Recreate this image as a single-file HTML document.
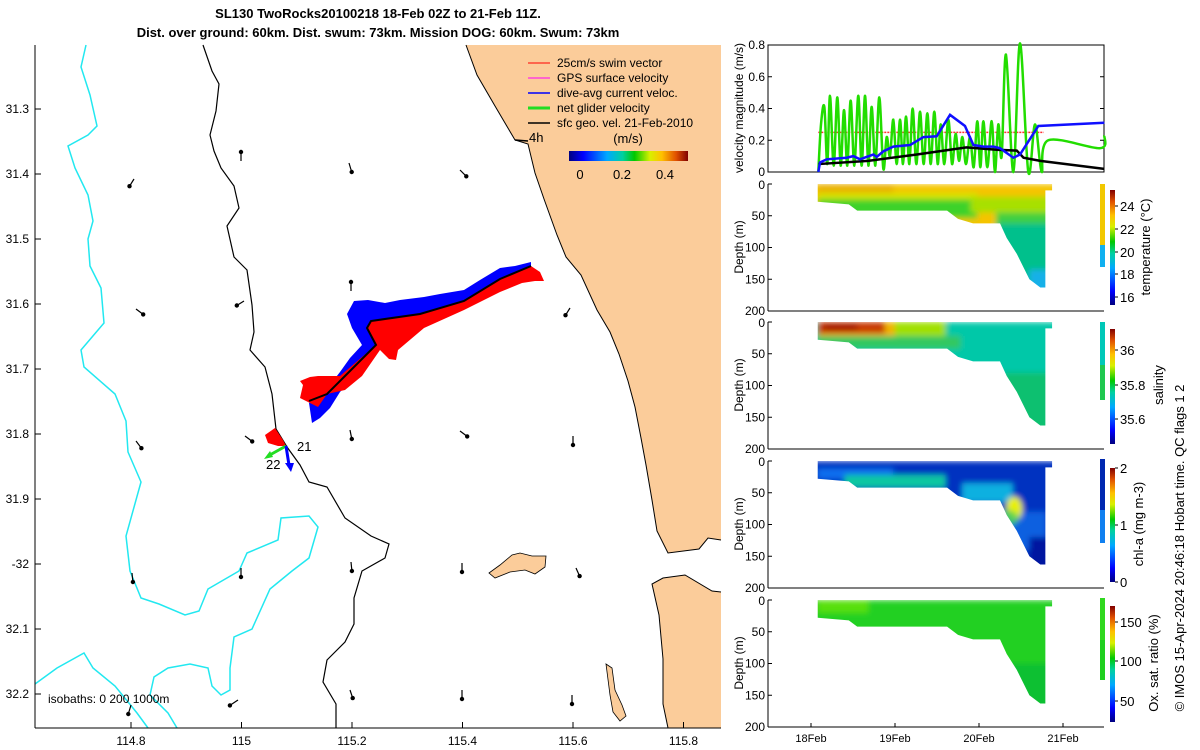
<!DOCTYPE html>
<html><head><meta charset="utf-8"><style>
html,body{margin:0;padding:0;background:#fff;}
svg{display:block;font-family:"Liberation Sans",sans-serif;}
</style></head><body>
<svg id="fig" width="1200" height="750" viewBox="0 0 1200 750" xmlns="http://www.w3.org/2000/svg">
<defs>
<linearGradient id="jetH" x1="0" y1="0" x2="1" y2="0">
<stop offset="0" stop-color="#00007f"/><stop offset="0.12" stop-color="#0000ff"/><stop offset="0.32" stop-color="#00a8ff"/><stop offset="0.45" stop-color="#00d0a0"/><stop offset="0.55" stop-color="#00c800"/><stop offset="0.68" stop-color="#d8f000"/><stop offset="0.78" stop-color="#ffc000"/><stop offset="0.9" stop-color="#e05000"/><stop offset="1" stop-color="#800000"/>
</linearGradient>
<linearGradient id="jetV" x1="0" y1="1" x2="0" y2="0">
<stop offset="0" stop-color="#00007f"/><stop offset="0.12" stop-color="#0000ff"/><stop offset="0.32" stop-color="#00a8ff"/><stop offset="0.45" stop-color="#00d0a0"/><stop offset="0.55" stop-color="#00c800"/><stop offset="0.68" stop-color="#d8f000"/><stop offset="0.78" stop-color="#ffc000"/><stop offset="0.9" stop-color="#e05000"/><stop offset="1" stop-color="#800000"/>
</linearGradient>
<filter id="soft" x="-5%" y="-5%" width="110%" height="110%"><feGaussianBlur stdDeviation="3"/></filter>
</defs>

<text x="378" y="18" font-size="13" font-weight="bold" text-anchor="middle">SL130 TwoRocks20100218 18-Feb 02Z to 21-Feb 11Z.</text>
<text x="378" y="37" font-size="13" font-weight="bold" text-anchor="middle">Dist. over ground: 60km. Dist. swum: 73km. Mission DOG: 60km. Swum: 73km</text>

<g id="map">
<polygon fill="#fbcc9a" points="466,45 477,75 495,106 515,140 528,144 535,173 544,199 557,235 566,257 581,275 597,310 610,332 619,354 628,381 635,407 641,438 646,465 652,500 657,531 668,553 699,549 708,538 721,540 721,728 668,728 663,704 663,659 659,615 652,584 663,578 685,575 712,591 721,592 721,45"/>
<polyline fill="none" stroke="#000" stroke-width="1" points="466,45 477,75 495,106 515,140 528,144 535,173 544,199 557,235 566,257 581,275 597,310 610,332 619,354 628,381 635,407 641,438 646,465 652,500 657,531 668,553 699,549 708,538 721,540"/>
<polyline fill="none" stroke="#000" stroke-width="1" points="721,592 712,591 685,575 663,578 652,584 659,615 663,659 663,704 668,728"/>
<polygon fill="#fbcc9a" stroke="#000" stroke-width="0.8" points="489,573 500,565 512,555 520,553 532,556 546,556 545,567 535,574 525,570 510,572 495,578"/>
<polygon fill="#fbcc9a" stroke="#000" stroke-width="0.8" points="606,664 612,668 615,690 622,705 626,716 620,721 613,712 610,695"/>
<polyline fill="none" stroke="#000" stroke-width="1.2" points="203,45 212,71 219,84 216,111 210,135 214,151 221,168 234,186 239,208 227,226 234,257 247,270 252,305 254,332 250,350 265,367 272,394 276,429 287,447 300,465 309,482 327,487 345,518 371,536 389,544 385,558 362,571 354,598 354,624 345,642 327,660 323,682 336,704 336,728"/>
<polyline fill="none" stroke="#22e8f0" stroke-width="1.5" points="86,45 81,67 90,95 97,126 88,135 68,146 75,168 88,195 93,221 88,239 90,266 101,288 104,323 81,350 84,367 115,394 126,421 128,452 141,482 126,536 130,571 141,598 159,604 185,615 199,611 208,589 239,571 247,553 278,540 281,518 309,516 318,527 309,558 292,571 270,589 252,629 234,637 230,668 230,690 221,695 212,686 208,668 190,664 168,668 154,677 150,695 168,713 177,728"/>
<polyline fill="none" stroke="#22e8f0" stroke-width="1.5" points="35,684 57,668 84,653 93,668 115,686 137,713 148,728"/>
<g id="geoArrows"></g>
<polygon fill="#0000ff" points="531,262 515,266 500,268 480,280 464,290 440,294 424,297 400,300 385,303 368,300 354,301 347,314 352,328 362,345 350,358 340,372 323,394 309,403 312,423 320,418 330,408 340,392 360,372 376,346 367,328 371,321 420,314 464,301 500,279 531,266"/>
<polygon fill="#ff0000" points="531,266 540,272 544,281 535,281 522,283 500,292 464,310 424,328 398,350 396,360 389,359 380,350 362,376 345,390 327,394 318,407 300,398 303,385 300,381 310,377 318,376 330,376 340,376 376,345 367,328 371,321 420,314 464,301 500,279"/>
<polyline fill="none" stroke="#000" stroke-width="2" points="531,266 500,279 464,301 420,314 371,321 367,328 376,345 345,376 327,394 309,401"/>
<polygon fill="#ff0000" points="265,435 275,428 283,440 286,446 278,446 268,443"/>
<line x1="286" y1="446" x2="268" y2="456" stroke="#22dd22" stroke-width="3"/>
<polygon fill="#22dd22" points="264,459 270,451 273,457"/>
<line x1="286" y1="446" x2="289" y2="465" stroke="#0000ff" stroke-width="3"/>
<polygon fill="#0000ff" points="285,463 294,463 291,472"/>
<text x="297" y="451" font-size="13">21</text>
<text x="266" y="469" font-size="13">22</text>
<text x="529" y="142" font-size="13">4h</text>
<path d="M515,140 L528,141" stroke="#000" stroke-width="1.5"/>
<g font-size="12">
<line x1="528" y1="63" x2="550" y2="63" stroke="#ff0000" stroke-width="1"/><text x="557" y="67">25cm/s swim vector</text>
<line x1="528" y1="78" x2="550" y2="78" stroke="#ff00ff" stroke-width="1"/><text x="557" y="82">GPS surface velocity</text>
<line x1="528" y1="93" x2="550" y2="93" stroke="#0000ff" stroke-width="1.5"/><text x="557" y="97">dive-avg current veloc.</text>
<line x1="528" y1="108" x2="550" y2="108" stroke="#22dd22" stroke-width="3"/><text x="557" y="112">net glider velocity</text>
<line x1="528" y1="123" x2="550" y2="123" stroke="#000" stroke-width="1.5"/><text x="557" y="127">sfc geo. vel. 21-Feb-2010</text>
<text x="628" y="143" font-size="13" text-anchor="middle">(m/s)</text>
<rect x="569" y="151" width="119" height="10" fill="url(#jetH)"/>
<text x="580" y="179" text-anchor="middle" font-size="13">0</text>
<text x="622" y="179" text-anchor="middle" font-size="13">0.2</text>
<text x="665" y="179" text-anchor="middle" font-size="13">0.4</text>
</g>
<text x="48" y="703" font-size="12">isobaths: 0   200  1000m</text>
<line x1="35" y1="45" x2="35" y2="728" stroke="#000"/>
<line x1="35" y1="728" x2="721" y2="728" stroke="#000"/>
<g id="mapTicks" font-size="12"></g>
</g>

<g id="panels"></g>
<text transform="translate(1184,548) rotate(-90)" font-size="13" text-anchor="middle">© IMOS 15-Apr-2024 20:46:18 Hobart time. QC flags 1  2</text>
</svg>

<script>
const dayTicks = ["18Feb","19Feb","20Feb","21Feb"];
const velTicks = [0,0.2,0.4,0.6,0.8];
const depthTicks = [0,50,100,150,200];
const tGreen = [0.087,0.119,0.159,0.194,0.226,0.270,0.313,0.353,0.393,0.432,0.472,0.516,0.563,0.603,0.643,0.683,0.722,0.766,0.813,0.861,0.901,0.940,0.980,1.020,1.060,1.095,1.131,1.171,1.210,1.254,1.298,1.341,1.385,1.425,1.468,1.508,1.544,1.587,1.635,1.679,1.722,1.762,1.802,1.845,1.893,1.937,1.980,2.016,2.052,2.099,2.151,2.190,2.230,2.270,2.321,2.409,2.488,2.587,2.667,2.746,2.825,3.440,3.492];
const vGreen = [0.0,0.3,0.41,0.05,0.48,0.04,0.47,0.04,0.39,0.04,0.45,0.04,0.48,0.04,0.48,0.04,0.41,0.04,0.47,0.02,0.22,0.1,0.33,0.05,0.33,0.05,0.35,0.05,0.40,0.05,0.38,0.05,0.37,0.05,0.38,0.05,0.30,0.05,0.33,0.05,0.24,0.07,0.22,0.05,0.22,0.03,0.32,0.03,0.32,0.03,0.32,0.0,0.30,0.1,0.74,0.0,0.81,0.0,0.30,0.0,0.20,0.15,0.23];
const tBlue = [0.087,0.107,0.187,0.425,0.504,0.583,0.742,0.782,0.861,0.980,1.179,1.337,1.496,1.655,1.833,1.933,2.052,2.171,2.25,2.409,2.488,2.706,3.492];
const vBlue = [0,0.06,0.08,0.09,0.10,0.08,0.11,0.095,0.13,0.16,0.17,0.22,0.225,0.36,0.29,0.17,0.16,0.16,0.15,0.09,0.11,0.29,0.31];
const tBlack = [0.087,0.68,1.26,1.85,2.21,2.45,2.53,2.73,3.49];
const vBlack = [0.05,0.07,0.11,0.155,0.14,0.135,0.09,0.07,0.02];
const tRed = [0.087,2.77];
const vRed = [0.25,0.25];
const secT = [0.08,2.87,2.87,2.79,2.79,2.73,2.6,2.45,2.33,2.25,1.93,1.75,1.62,0.55,0.45,0.08];
const secD = [0,0,10,10,163,163,150,110,85,62,62,55,42,42,32,28];
const lonTicks = ["114.8","115","115.2","115.4","115.6","115.8"];
const latTicks = ["31.3","31.4","31.5","31.6","31.7","31.8","31.9","-32","32.1","32.2"];

const NS="http://www.w3.org/2000/svg";
function mk(tag,attrs,parent){const e=document.createElementNS(NS,tag);for(const k in attrs)e.setAttribute(k,attrs[k]);parent.appendChild(e);return e;}
const X=t=>811+84*t;
const VY=v=>172-v*158.75;
const panels=document.getElementById('panels');

const mt=document.getElementById('mapTicks');
lonTicks.forEach((s,i)=>{const x=131+110.5*i;
 mk('line',{x1:x,y1:728,x2:x,y2:722,stroke:'#000'},mt);
 const t=mk('text',{x:x,y:745,'text-anchor':'middle'},mt);t.textContent=s;
 
 });
latTicks.forEach((s,i)=>{const y=109+65.0*i;
 mk('line',{x1:35,y1:y,x2:41,y2:y,stroke:'#000'},mt);
 const t=mk('text',{x:29,y:y+4,'text-anchor':'end'},mt);t.textContent=s;
 
 });

const geoPos=[[134,179,-0.5,0.8],[241,161,0,-1],[349,163,0.3,1],[460,170,0.7,0.7],[136,309,0.8,0.6],[244,301,-0.8,0.5],[351,291,0,-1],[570,308,-0.5,0.8],[136,441,0.6,0.8],[245,436,0.8,0.6],[350,430,0.2,1],[460,431,0.8,0.6],[573,436,0,1],[132,573,0.1,1],[241,568,0,1],[351,562,0.1,1],[462,563,0,1],[576,568,0.4,0.9],[238,700,-0.9,0.6],[131,705,-0.3,1],[350,690,0.3,0.9],[462,690,0,1],[572,695,0,1]];
const ga=document.getElementById('geoArrows');
geoPos.forEach(p=>{const [x,y,dx,dy]=p;const L=9;
 const x2=x+dx*L,y2=y+dy*L;
 mk('line',{x1:x,y1:y,x2:x2,y2:y2,stroke:'#000','stroke-width':1.2},ga);
 const a=mk('circle',{cx:x2,cy:y2,r:2.2,fill:'#000'},ga);
 
 });

function pts(ts,vs,fx,fy){return ts.map((t,i)=>fx(t)+','+fy(vs[i])).join(' ');}
function smooth(ts,vs){const P=ts.map((t,i)=>[X(t),VY(vs[i])]);let d='M'+P[0][0]+','+P[0][1];
 for(let i=0;i<P.length-1;i++){const p0=P[i-1]||P[i],p1=P[i],p2=P[i+1],p3=P[i+2]||p2;
 const c1=[p1[0]+(p2[0]-p0[0])/6,p1[1]+(p2[1]-p0[1])/6],c2=[p2[0]-(p3[0]-p1[0])/6,p2[1]-(p3[1]-p1[1])/6];
 d+=' C'+c1+' '+c2+' '+p2;}return d;}

const vp=mk('g',{},panels);


mk('rect',{x:768,y:45,width:336,height:127,fill:'none',stroke:'#000'},vp);
velTicks.forEach(v=>{const y=VY(v);mk('line',{x1:768,y1:y,x2:772,y2:y,stroke:'#000'},vp);mk('line',{x1:1100,y1:y,x2:1104,y2:y,stroke:'#000'},vp);
 const t=mk('text',{x:765,y:y+4,'text-anchor':'end','font-size':12},vp);t.textContent=String(v);
 
 });
const vl=mk('text',{transform:'translate(743,108) rotate(-90)','text-anchor':'middle','font-size':12},vp);vl.textContent='velocity magnitude (m/s)';


const rd=mk('polyline',{points:pts(tRed,vRed,X,VY),fill:'none',stroke:'#ff3030','stroke-width':1.5,'stroke-dasharray':'2,1'},vp);


const gl=mk('path',{d:smooth(tGreen,vGreen),fill:'none',stroke:'#22dd00','stroke-width':2.5},vp);


const bkl=mk('polyline',{points:pts(tBlack,vBlack,X,VY),fill:'none',stroke:'#000','stroke-width':2.5},vp);


const bl=mk('polyline',{points:pts(tBlue,vBlue,X,VY),fill:'none',stroke:'#1010ff','stroke-width':2.5},vp);



const secDefs=[
 {top:184,name:'temperature',label:'temperature (°C)',lx:1150,ticks:['24','22','20','18','16'],ty:[206,229,252,274,297],cb:[190,305],
  layers:[['#f5c400',0,0,3,200],['#eab000',0.08,0,0.9,14],['#d6e400',0.08,14,1.9,12],['#3ed22a',0.08,24,1.9,30],['#a8e000',1.9,20,1.5,25],['#40d040',2.2,45,1,20],['#00c08c',2.2,62,1,100],['#18b0e8',2.6,135,0.4,40]],strip:['#f2c800',184,245,'#10b0f0',267]},
 {top:322,name:'salinity',label:'salinity',lx:1163,ticks:['36','35.8','35.6'],ty:[350,385,419],cb:[329,444],
  layers:[['#00c8a8',0,0,3,200],['#f0b400',0.08,0,1.2,30],['#c83800',0.08,0,0.8,18],['#9a1000',0.15,4,0.4,8],['#a0e000',1.0,0,0.6,42],['#30c860',0.08,22,1.7,20],['#10c070',2.3,80,0.6,100]],strip:['#00c8b8',322,365,'#20c850',400]},
 {top:461,name:'chl-a',label:'chl-a (mg m-3)',lx:1143,ticks:['2','1','0'],ty:[468,525,582],cb:[468,582],
  layers:[['#0030c0',0,0,3,200],['#0a70f0',0.08,12,0.9,16],['#10c8a0',0.4,22,1.2,20],['#10b0e0',1.8,35,0.6,30],['#0a60e0',2.2,80,0.6,60],['#0018a0',2.6,120,0.4,60]],strip:['#0028b0',459,510,'#1080f0',543],blob:true},
 {top:600,name:'oxygen',label:'Ox. sat. ratio (%)',lx:1158,ticks:['150','100','50'],ty:[622,661,701],cb:[606,722],
  layers:[['#20d020',0,0,3,200],['#58e010',0.08,0,0.6,20],['#10c030',2.3,100,0.6,80]],strip:['#30d820',598,640,'#20d020',680]}
];
secDefs.forEach((s,k)=>{
 const g=mk('g',{},panels);
 
 
 const DY=d=>s.top+d/200*127;
 mk('line',{x1:768,y1:s.top,x2:768,y2:s.top+127,stroke:'#000'},g);
 mk('line',{x1:768,y1:s.top+127,x2:1104,y2:s.top+127,stroke:'#000'},g);
 depthTicks.forEach(d=>{const y=DY(d);mk('line',{x1:768,y1:y,x2:772,y2:y,stroke:'#000'},g);
  const t=mk('text',{x:765,y:y+(d===0?5:4),'text-anchor':'end','font-size':12},g);t.textContent=String(d);
  
  });
 const dl=mk('text',{transform:'translate(743,'+(s.top+63)+') rotate(-90)','text-anchor':'middle','font-size':12},g);dl.textContent='Depth (m)';
 
 
 const cid='clip'+k;
 const cp=mk('clipPath',{id:cid},g);
 mk('polygon',{points:pts(secT,secD,X,DY)},cp);
 const sg=mk('g',{'clip-path':'url(#'+cid+')'},g);
 
 
 const inner=mk('g',{filter:'url(#soft)'},sg);
 s.layers.forEach(L=>{mk('rect',{x:X(L[1]),y:DY(L[2]),width:84*L[3],height:L[4]/200*127,fill:L[0]},inner);});
 if(s.blob){mk('ellipse',{cx:X(2.42),cy:DY(75),rx:8,ry:12,fill:'#e8f000'},inner);mk('ellipse',{cx:X(2.35),cy:DY(90),rx:10,ry:8,fill:'#40d060','opacity':0.8},inner);}
 mk('rect',{x:1100,y:s.strip[1],width:5,height:s.strip[2]-s.strip[1],fill:s.strip[0]},g);
 mk('rect',{x:1100,y:s.strip[2],width:5,height:s.strip[4]-s.strip[2],fill:s.strip[3]},g);
 mk('rect',{x:1110,y:s.cb[0],width:5,height:s.cb[1]-s.cb[0],fill:'url(#jetV)'},g);
 s.ticks.forEach((tk,i)=>{const y=s.ty[i];mk('line',{x1:1115,y1:y,x2:1118,y2:y,stroke:'#000'},g);
  const t=mk('text',{x:1120,y:y+5,'font-size':13},g);t.textContent=tk;
  
  });
 const cl=mk('text',{transform:'translate('+s.lx+','+(s.top+63)+') rotate(-90)','text-anchor':'middle','font-size':13},g);cl.textContent=s.label;
 
 
});
dayTicks.forEach((d,i)=>{const x=X(i);mk('line',{x1:x,y1:727,x2:x,y2:723,stroke:'#000'},panels);
 const t=mk('text',{x:x,y:742,'text-anchor':'middle','font-size':11},panels);t.textContent=d;
 
 });
</script>
</body></html>
